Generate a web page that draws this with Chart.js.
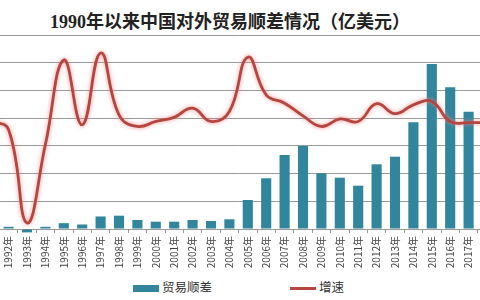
<!DOCTYPE html>
<html>
<head>
<meta charset="utf-8">
<script src="https://cdn.jsdelivr.net/npm/chart.js@4/dist/chart.umd.min.js"></script>
<style>
body{margin:0;width:480px;height:300px;overflow:hidden;background:#fff;position:relative;font-family:"Noto Sans CJK SC",sans-serif}
#title{position:absolute;left:0;width:460px;top:7px;text-align:center;font:bold 18px "Liberation Serif","Noto Sans CJK SC";color:#222;white-space:nowrap}
#box{position:absolute;left:-29.3px;top:25px;width:535.2px;height:250px}
.leg{position:absolute;top:279px;font-size:12.5px;color:#333;line-height:16px}
.leg span{display:inline-block;vertical-align:middle;margin-right:3px}
</style>
</head>
<body>
<div id="title">1990年以来中国对外贸易顺差情况（亿美元）</div>
<div id="box"><canvas id="c"></canvas></div>
<div class="leg" style="left:133px"><span style="width:26px;height:7px;background:#31859C"></span>贸易顺差</div>
<div class="leg" style="left:290px"><span style="width:26px;height:3px;background:#B8463F"></span>增速</div>
<script>
// 年份 (1991 和 2018 在画面外)
const years=['1991年','1992年','1993年','1994年','1995年','1996年','1997年','1998年','1999年','2000年',
'2001年','2002年','2003年','2004年','2005年','2006年','2007年','2008年','2009年','2010年',
'2011年','2012年','2013年','2014年','2015年','2016年','2017年','2018年'];
// 贸易顺差 亿美元
const surplus=[null,80,-122,80,210,163,452,480,325,264,
264,325,290,350,1047,1830,2671,2996,2010,1852,
1563,2335,2610,3852,5957,5115,4235,null];
// 增速 %
const growth=[-8,-42,-378,-95,210,-24,235,12,-30,-12,
3,36,-12,24,220,84,54,8,-30,-3,
-12,52,16,48,60,-12,-16,-16];

const glow={
  id:'glow',
  beforeDatasetDraw(chart,args){
    if(args.index===1){chart.ctx.save();chart.ctx.shadowColor='rgba(240,130,130,0.9)';chart.ctx.shadowBlur=4}
  },
  afterDatasetDraw(chart,args){
    if(args.index===1)chart.ctx.restore()
  }
};

const ctx=document.getElementById('c');
const myChart=new Chart(ctx,{
  type:'bar',
  data:{
    labels:years,
    datasets:[{
      label:'贸易顺差',
      data:surplus,
      backgroundColor:'#31859C',
      categoryPercentage:1,
      barPercentage:0.55,
      yAxisID:'y',
      clip:false,
      order:1
    },{
      type:'line',
      label:'增速',
      data:growth,
      borderColor:'#B5453F',
      borderWidth:2.8,
      pointRadius:0,
      tension:0.45,
      yAxisID:'y2',
      clip:false,
      order:0
    }]
  },
  options:{
    responsive:true,
    maintainAspectRatio:false,
    animation:false,
    layout:{padding:{left:10,right:10,top:10,bottom:0}},
    plugins:{legend:{display:false},tooltip:{enabled:false}},
    scales:{
      x:{
        grid:{drawOnChartArea:false,tickLength:4,color:'#999'},
        border:{color:'#999'},
        ticks:{autoSkip:false,minRotation:90,maxRotation:90,padding:3,color:'#444',font:{size:10,family:'Noto Sans CJK SC'}},
        afterFit:(s)=>{s.height=46}
      },
      y:{
        min:0,max:7000,
        ticks:{display:false,stepSize:1000},
        grid:{color:'#9a9a9a',drawTicks:false},
        border:{display:false}
      },
      y2:{
        display:false,
        min:-400,max:300,
        position:'right'
      }
    }
  },
  plugins:[glow]
});
</script>
</body>
</html>
